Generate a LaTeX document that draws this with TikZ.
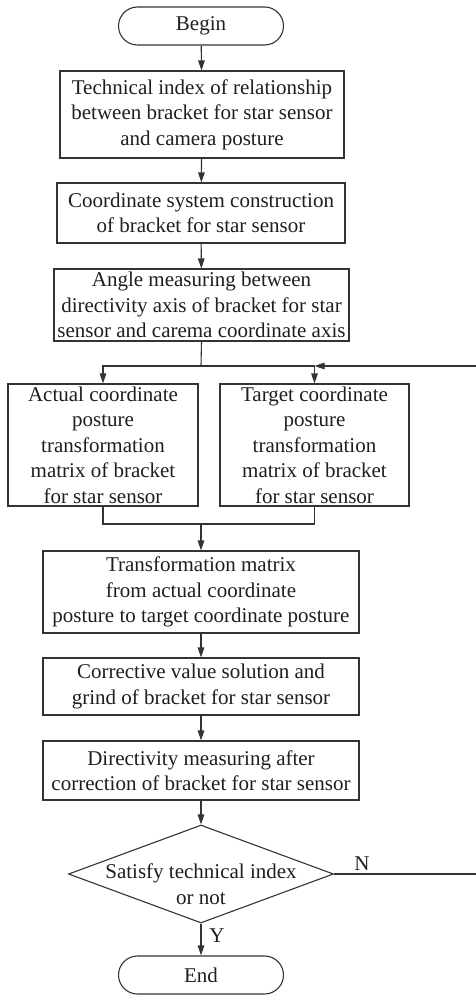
\documentclass[tikz,border=0pt]{standalone}
\usepackage{fontspec}
\setmainfont{Liberation Serif}
\usetikzlibrary{arrows.meta,shapes.geometric,shapes.misc}
\definecolor{ink}{HTML}{333333}
\definecolor{textink}{HTML}{1E1E1E}
\tikzset{
  base/.style={draw=ink, line width=1.1pt, text=textink, font=\fontsize{21}{25.5}\selectfont, align=center, inner sep=0pt},
  procbox/.style={base, rectangle},
  termbox/.style={base, rounded rectangle, minimum width=165pt, minimum height=38pt},
  decbox/.style={draw=ink, line width=1.1pt, diamond, minimum width=265pt, minimum height=98pt, inner sep=0pt},
  lbl/.style={text=textink, font=\fontsize{21}{25.5}\selectfont, align=center, inner sep=0pt},
  conn/.style={draw=ink, line width=1.1pt},
  arr/.style={conn, -{Triangle[length=10pt,width=6.5pt]}}
}
\begin{document}
\begin{tikzpicture}[x=1pt,y=-1pt]
\useasboundingbox (0,0) rectangle (475,995);
\node[termbox] (begin) at (201,26) {Begin};
\node[procbox, minimum width=284pt, minimum height=87pt] (b1) at (202,114.5) {Technical index of relationship\\between bracket for star sensor\\and camera posture};
\node[procbox, minimum width=288pt, minimum height=60pt] (b2) at (201,213) {Coordinate system construction\\of bracket for star sensor};
\node[procbox, minimum width=295pt, minimum height=72pt] (b3) at (201.5,305) {Angle measuring between\\directivity axis of bracket for star\\sensor and carema coordinate axis};
\node[procbox, minimum width=190pt, minimum height=122pt] (bl) at (103,445) {Actual coordinate\\posture\\transformation\\matrix of bracket\\for star sensor};
\node[procbox, minimum width=189pt, minimum height=122pt] (br) at (314.5,445) {Target coordinate\\posture\\transformation\\matrix of bracket\\for star sensor};
\node[procbox, minimum width=316pt, minimum height=82pt] (b4) at (201,592) {Transformation matrix\\from actual coordinate\\posture to target coordinate posture};
\node[procbox, minimum width=316pt, minimum height=57pt] (b5) at (201,686.5) {Corrective value solution and\\grind of bracket for star sensor};
\node[procbox, minimum width=316pt, minimum height=59pt] (b6) at (201,770.5) {Directivity measuring after\\correction of bracket for star sensor};
\node[decbox] (dec) at (201,874) {};
\node[lbl] (dectext) at (201,884) {Satisfy technical index\\or not};
\node[termbox] (end) at (201,975) {End};
\coordinate (split) at (201,366);
\coordinate (merge) at (201,524);
\coordinate (loopB) at (478,874);
\coordinate (loopT) at (478,366);
\node[lbl] (nlab) at (362,864) {N};
\node[lbl] (ylab) at (217,936) {Y};
\draw[arr] (begin) -- (b1);
\draw[arr] (b1) -- (b2);
\draw[arr] (b2) -- (b3);
\draw[conn] (b3.south) -- (split);
\draw[arr] (split) -| (bl.north);
\draw[arr] (split) -| (br.north);
\draw[conn] (bl.south) |- (merge) -| (br.south);
\draw[arr] (merge) -- (b4.north);
\draw[arr] (b4) -- (b5);
\draw[arr] (b5) -- (b6);
\draw[arr] (b6.south) -- (dec.north);
\draw[arr] (dec.south) -- (end.north);
\draw[arr] (dec.east) -- (loopB) -- (loopT) -- (br.north |- split);
\end{tikzpicture}
\end{document}
